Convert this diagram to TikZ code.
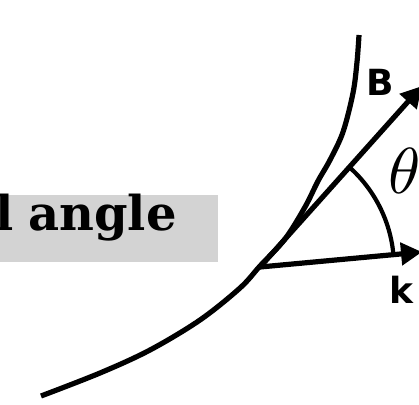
\documentclass[tikz,border=0pt]{standalone}
\usepackage{fontspec}
\usetikzlibrary{arrows.meta}
\newfontfamily\slabfont{DejaVu Serif}
\newfontfamily\labelfont{DejaVu Sans}
\definecolor{boxgray}{RGB}{211,211,211}
\begin{document}
\begin{tikzpicture}[x=1pt,y=-1pt,
  vec/.style={line width=5.2pt,-{Triangle[length=21pt,width=22pt]}},
  curveline/.style={line width=5.2pt},
  anglearc/.style={line width=4.2pt},
  veclabel/.style={font=\labelfont\bfseries\fontsize{36}{36}\selectfont,inner sep=0pt}]
\useasboundingbox (0,0) rectangle (419,404);
\fill[boxgray] (0,195) rectangle (218,262);
\node[anchor=base east,inner sep=0pt,font=\slabfont\bfseries\fontsize{48}{48}\selectfont] (title) at (177,230) {l\kern-2pt{} angle};
\draw[curveline] plot[smooth,tension=0.55] coordinates {(41,396) (100,373) (150,350) (200,320) (240,288) (260,266) (285,239) (305,207) (318,181) (330,160) (343,132) (353,93) (357,62) (359,35)};
\coordinate (O) at (260,267);
\coordinate (Btip) at (422,86);
\coordinate (ktip) at (422,252);
\draw[vec] (O) -- (Btip);
\draw[vec] (O) -- (ktip);
\draw[anglearc] ([shift={(-5.3:134)}]O) arc[start angle=-5.3,end angle=-48.2,radius=134];
\node[veclabel] (Blabel) at (380,82) {B};
\node[veclabel] (klabel) at (401,290) {k};
\node[inner sep=0pt,scale=6.5] (theta) at (405,171) {$\theta$};
\end{tikzpicture}
\end{document}
